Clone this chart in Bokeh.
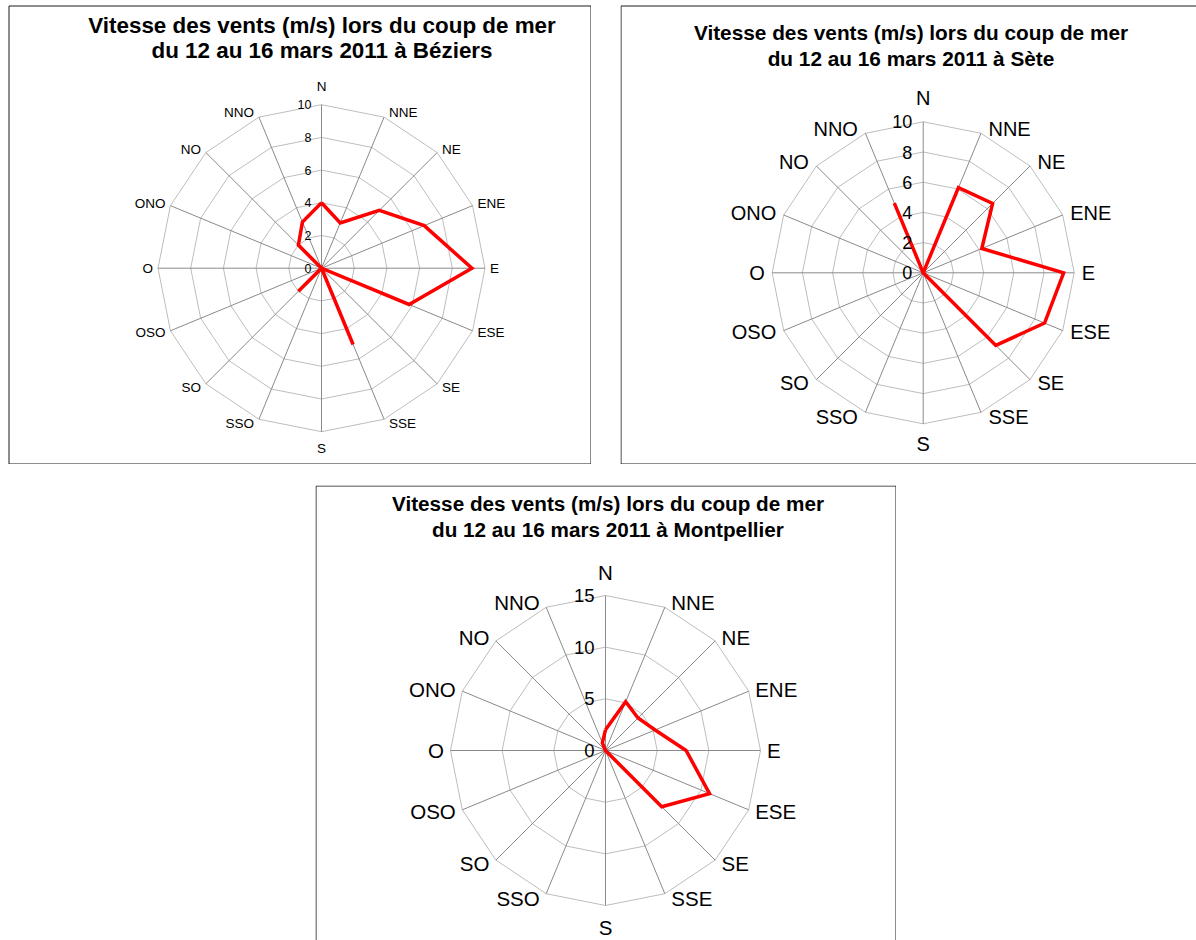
import numpy as np
from bokeh.plotting import figure
from bokeh.layouts import column, row
from bokeh.models import Spacer, Range1d
from bokeh.core.properties import value
from bokeh.embed import file_html
from bokeh.resources import INLINE

# ---------------- data ----------------
directions = ["N", "NNE", "NE", "ENE", "E", "ESE", "SE", "SSE",
              "S", "SSO", "SO", "OSO", "O", "ONO", "NO", "NNO"]
beziers_speed = [4.0, 3.0, 5.0, 6.8, 9.2, 5.8, 0.0, 5.05, 0.0, 0.0, 2.0, 0.0, 0.0, 0.0, 2.0, 3.05]
sete_speed = [0.0, 6.1, 6.5, 4.2, 9.3, 8.7, 6.8, 0.0, 0.0, 0.0, 0.0, 0.0, 0.0, 0.0, 0.0, 5.0]
montpellier_speed = [2.0, 5.1, 4.45, 5.2, 7.8, 10.9, 7.7, 0.0, 0.0, 0.0, 0.0, 0.0, 0.0, 0.0, 0.0, 0.8]
beziers_ticks = [0, 2, 4, 6, 8, 10]
sete_ticks = [0, 2, 4, 6, 8, 10]
montpellier_ticks = [0, 5, 10, 15]
title_line1 = "Vitesse des vents (m/s) lors du coup de mer"
beziers_title2 = "du 12 au 16 mars 2011 à Béziers"
sete_title2 = "du 12 au 16 mars 2011 à Sète"
montpellier_title2 = "du 12 au 16 mars 2011 à Montpellier"

FONT = value("Liberation Sans")


def radar(values, ticks, title2, fl, ft, w, h, cx, cy, rpx,
          cat_fs, tick_fs, title_fs, title_cx, title_ys,
          hgap, n_off, s_off, tick_gap, borders):
    rmax = ticks[-1]
    s = rpx / rmax
    p = figure(width=w, height=h,
               x_range=Range1d((fl - cx) / s, (fl + w - cx) / s),
               y_range=Range1d((cy - ft - h) / s, (cy - ft) / s),
               output_backend="svg", toolbar_location=None,
               x_axis_location=None, y_axis_location=None,
               min_border=0, outline_line_color=None,
               background_fill_color="white", border_fill_color="white")
    p.xgrid.visible = False
    p.ygrid.visible = False

    def X(px):
        return (px - cx) / s

    def Y(py):
        return (cy - py) / s

    n = len(directions)
    th = np.arange(n) * 2 * np.pi / n
    sn, cs = np.sin(th), np.cos(th)

    # rings
    for t in ticks[1:]:
        p.line(list(t * sn) + [t * sn[0]], list(t * cs) + [t * cs[0]],
               line_color="#bdbdbd", line_width=1)
    # spokes
    p.segment(x0=[0] * n, y0=[0] * n, x1=list(rmax * sn), y1=list(rmax * cs),
              line_color="#8a8a8a", line_width=1)

    # data line
    v = np.array(values)
    xs = list(v * sn) + [v[0] * sn[0]]
    ys = list(v * cs) + [v[0] * cs[0]]
    p.line(xs, ys, line_color="#ff0000", line_width=3.5, line_join="miter")

    # category labels
    for i, d in enumerate(directions):
        x, y = rmax * sn[i], rmax * cs[i]
        if abs(sn[i]) < 0.1:
            align = "center"
            xo = 0
            yo = n_off if cs[i] > 0 else s_off
        else:
            align = "left" if sn[i] > 0 else "right"
            xo = hgap if sn[i] > 0 else -hgap
            yo = -5 * cs[i]
        p.text(x=[x], y=[y], text=[d], text_align=align, text_baseline="middle",
               x_offset=xo, y_offset=yo, text_font=FONT,
               text_font_size=cat_fs, text_color="black")

    # tick labels
    p.text(x=[0] * len(ticks), y=ticks, text=[str(t) for t in ticks],
           text_align="right", text_baseline="middle", x_offset=-tick_gap,
           text_font=FONT, text_font_size=tick_fs, text_color="black")

    # title
    p.text(x=[X(title_cx)] * 2, y=[Y(title_ys[0]), Y(title_ys[1])],
           text=[title_line1, title2], text_align="center", text_baseline="middle",
           text_font=FONT, text_font_style="bold", text_font_size=title_fs,
           text_color="black")

    # frame border
    L, R, T, B = borders
    segs_x, segs_y = [], []
    top = T if T is not None else ft - 5
    bot = B if B is not None else ft + h + 5
    lef = L if L is not None else fl - 5
    rig = R if R is not None else fl + w + 5
    if L is not None:
        segs_x.append([X(L), X(L)]); segs_y.append([Y(top), Y(bot)])
    if R is not None:
        segs_x.append([X(R), X(R)]); segs_y.append([Y(top), Y(bot)])
    if T is not None:
        segs_x.append([X(lef), X(rig)]); segs_y.append([Y(T), Y(T)])
    if B is not None:
        segs_x.append([X(lef), X(rig)]); segs_y.append([Y(B), Y(B)])
    p.multi_line(segs_x, segs_y, line_color="#1a1a1a", line_width=1)
    return p


p1 = radar(beziers_speed, beziers_ticks, beziers_title2,
           fl=0, ft=0, w=591, h=464, cx=321, cy=267.7, rpx=163.5,
           cat_fs="13.5px", tick_fs="12.5px", title_fs="22.4px",
           title_cx=321.5, title_ys=(25, 50),
           hgap=5, n_off=-18.5, s_off=16.5, tick_gap=10,
           borders=(8.5, 590.5, 5.5, 463.5))

p2 = radar(sete_speed, sete_ticks, sete_title2,
           fl=620, ft=0, w=576, h=464, cx=922.7, cy=272.3, rpx=151,
           cat_fs="20px", tick_fs="18px", title_fs="20.8px",
           title_cx=910.5, title_ys=(32, 58),
           hgap=7.5, n_off=-24, s_off=20, tick_gap=11,
           borders=(620.5, None, 5.5, 463.5))

p3 = radar(montpellier_speed, montpellier_ticks, montpellier_title2,
           fl=315, ft=485, w=581, h=455, cx=605, cy=750, rpx=155,
           cat_fs="20.5px", tick_fs="18.5px", title_fs="20.7px",
           title_cx=607.5, title_ys=(503, 529),
           hgap=6.5, n_off=-23, s_off=21.5, tick_gap=11,
           borders=(315.5, 895.5, 485.5, None))

layout = column(
    row(p1, Spacer(width=29, height=464), p2),
    Spacer(width=10, height=21),
    row(Spacer(width=315, height=455), p3),
)

open("out.html", "w").write(file_html(layout, INLINE))
